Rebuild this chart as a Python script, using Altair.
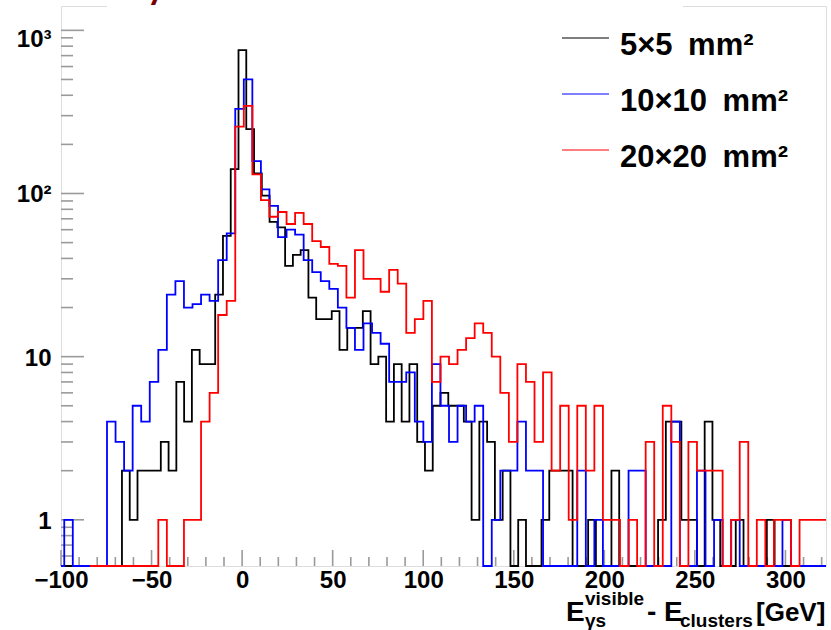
import altair as alt
import pandas as pd

# ---------------- data ----------------
series_names = ["5×5 mm²", "10×10 mm²", "20×20 mm²"]
series_colors = ["#000000", "#0000ff", "#ff0000"]

# binning of the three histograms (GeV)
black_first_edge = -100.66
black_bin_width = 4.29
blue_first_edge = -102.926
red_first_edge = -84.04
coarse_bin_width = 4.721

black_counts = [0, 0, 0, 0, 0, 0, 0, 0,
                2, 1, 2, 2, 2, 3, 2, 7, 4, 11, 9, 9, 24, 55, 141,
                757, 248, 133, 97, 67, 62, 36, 42, 45, 23,
                17, 17, 19, 11, 15, 15, 19, 9, 10, 4,
                9, 4, 9, 3, 2, 5, 6, 5, 5, 4,
                1, 4, 3, 1, 2, 0, 1, 0, 0, 1,
                2, 2, 2, 0, 0, 1, 0, 0, 2, 0,
                0, 0, 0, 0, 1, 4, 4, 1, 1, 0,
                4, 1, 0, 0, 1, 0, 0, 0, 1, 0,
                0, 0, 0, 0, 0, 0]

blue_counts = [0, 1, 0, 0, 0, 0,
               4, 3, 2, 5, 4, 7, 11, 24, 29, 20,
               21, 24, 22, 39, 57, 330, 500, 158, 106, 84,
               54, 60, 56, 39, 33, 29, 26, 20, 15, 11,
               16, 14, 12, 7, 7, 8, 4, 3, 9, 5,
               3, 5, 4, 5, 0, 1, 2, 2, 4, 2,
               2, 0, 0, 0, 0, 2, 0, 1, 0, 0,
               0, 2, 2, 0, 0, 0, 4, 0, 0, 2,
               0, 1, 0, 1, 0, 0, 0, 0, 0, 1,
               0, 0, 0, 0, 0]

red_counts = [0, 0,
              0, 0, 0, 0, 0, 0, 1, 0, 0, 1,
              1, 4, 6, 18, 22, 257, 344, 131, 91, 72,
              77, 65, 76, 65, 51, 47, 37, 36, 23, 45,
              30, 30, 25, 34, 28, 14, 17, 22, 7, 10,
              9, 11, 13, 16, 14, 10, 6, 3, 9, 7,
              3, 8, 2, 5, 1, 5, 2, 5, 1, 1,
              0, 1, 0, 3, 0, 5, 3, 0, 3, 2,
              2, 2, 0, 1, 3, 0, 1, 0, 1, 1,
              0, 1, 1, 1, 1]

x_label_values = [-100, -50, 0, 50, 100, 150, 200, 250, 300]
y_label_values = [1, 10, 100, 1000]

# ---------------- helpers ----------------
X_MIN, X_MAX = -100.0, 322.4
Y_MIN, Y_MAX = 0.521, 1410.0
W, H = 765, 560
FONT = "Liberation Sans"
FRAME = "#9a9a9a"


def step_frame(name, first_edge, width, counts):
    rows = []
    for i, c in enumerate(counts):
        rows.append({"series": name, "x": first_edge + i * width, "y": max(c, Y_MIN)})
    rows.append({"series": name, "x": first_edge + len(counts) * width,
                 "y": max(counts[-1], Y_MIN)})
    return pd.DataFrame(rows)


xs = alt.Scale(domain=[X_MIN, X_MAX], nice=False, zero=False, clamp=True)
ys = alt.Scale(type="log", domain=[Y_MIN, Y_MAX], nice=False, clamp=True)
cs = alt.Scale(domain=series_names, range=series_colors)

x_axis = alt.Axis(values=x_label_values, title=None, grid=False, domain=False, ticks=False,
                  labelFont=FONT, labelFontWeight="bold", labelFontSize=24,
                  labelColor="black", labelPadding=2, labelFlush=False, labelOverlap=False)
y_axis = alt.Axis(values=y_label_values, title=None, grid=False, domain=False, ticks=False,
                  labelExpr="datum.value == 100 ? '10²' : datum.value == 1000 ? '10³' : datum.label",
                  labelFont=FONT, labelFontWeight="bold", labelFontSize=24,
                  labelColor="black", labelPadding=10, labelFlush=False, labelOverlap=False,
                  labelOffset=alt.condition("datum.value >= 1000", alt.value(9), alt.value(1.5)))

legend = alt.Legend(title=None, orient="none", legendX=500, legendY=0,
                    symbolType="M-1,0.32H1", symbolSize=2209, symbolStrokeWidth=1.2,
                    symbolFillColor="transparent",
                    labelFont=FONT, labelFontWeight="bold", labelFontSize=31,
                    labelColor="black", labelOffset=10, rowPadding=1, labelLimit=400,
                    padding=0, labelBaseline="top",
                    labelExpr="replace(datum.label, ' ', '\u2002')")


def hist_layer(df):
    return alt.Chart(df).mark_line(interpolate="step-after", strokeWidth=1.8).encode(
        x=alt.X("x:Q", scale=xs, axis=x_axis),
        y=alt.Y("y:Q", scale=ys, axis=y_axis),
        color=alt.Color("series:N", scale=cs, legend=legend),
    )


black = hist_layer(step_frame(series_names[0], black_first_edge, black_bin_width, black_counts))
blue = hist_layer(step_frame(series_names[1], blue_first_edge, coarse_bin_width, blue_counts))
red = hist_layer(step_frame(series_names[2], red_first_edge, coarse_bin_width, red_counts))

# inward ticks (ROOT style)
x_major = pd.DataFrame({"v": x_label_values})
x_minor = pd.DataFrame({"v": [v for v in range(-90, 330, 10) if v % 50 != 0]})
y_major = pd.DataFrame({"v": y_label_values})
y_minor = pd.DataFrame({"v": [m * 10 ** e for e in range(-1, 4) for m in range(2, 10)
                              if Y_MIN < m * 10 ** e < Y_MAX and m * 10 ** e not in (1, 10, 100, 1000)]})

tick_style = dict(color=FRAME, strokeWidth=1.6)
xt_major = alt.Chart(x_major).mark_rule(**tick_style).encode(
    x=alt.X("v:Q", scale=xs), y=alt.value(H), y2=alt.value(H - 16))
xt_minor = alt.Chart(x_minor).mark_rule(**tick_style).encode(
    x=alt.X("v:Q", scale=xs), y=alt.value(H), y2=alt.value(H - 9))
yt_major = alt.Chart(y_major).mark_rule(**tick_style).encode(
    y=alt.Y("v:Q", scale=ys), x=alt.value(0), x2=alt.value(23))
yt_minor = alt.Chart(y_minor).mark_rule(**tick_style).encode(
    y=alt.Y("v:Q", scale=ys), x=alt.value(0), x2=alt.value(12))

# white title box hiding part of the top frame, with the cut-off title glyph
dummy = pd.DataFrame({"d": [0]})
title_box = alt.Chart(dummy).mark_rect(color="white").encode(
    x=alt.value(46), x2=alt.value(622), y=alt.value(-6), y2=alt.value(3))
title_glyph = alt.Chart(dummy).mark_text(text="γ", font=FONT, fontSize=30, fontWeight="bold",
                                         fontStyle="italic", color="#7a0000", align="left",
                                         baseline="alphabetic").encode(
    x=alt.value(88), y=alt.value(-7))


def label(txt, x, y, size):
    return alt.Chart(dummy).mark_text(text=txt, font=FONT, fontSize=size, fontWeight="bold",
                                      color="black", align="left", baseline="alphabetic").encode(
        x=alt.value(x), y=alt.value(y))


xtitle = [
    label("E", 505, 615, 28),
    label("visible", 524, 599, 19),
    label("γs", 524, 621, 19),
    label("- E", 586, 615, 28),
    label("clusters", 619, 621, 19),
    label("[GeV]", 695, 615, 26),
]

chart = alt.layer(
    xt_minor, xt_major, yt_minor, yt_major,
    black, blue, red,
    title_box, title_glyph,
    *xtitle,
).properties(
    width=W, height=H,
    padding={"left": 61, "top": 6, "right": 5, "bottom": 64},
    autosize=alt.AutoSizeParams(type="none"),
).configure_view(
    stroke=FRAME, strokeWidth=2
).configure(
    background="white"
)

chart.save("out.html", embed_options={"renderer": "svg", "actions": False})
